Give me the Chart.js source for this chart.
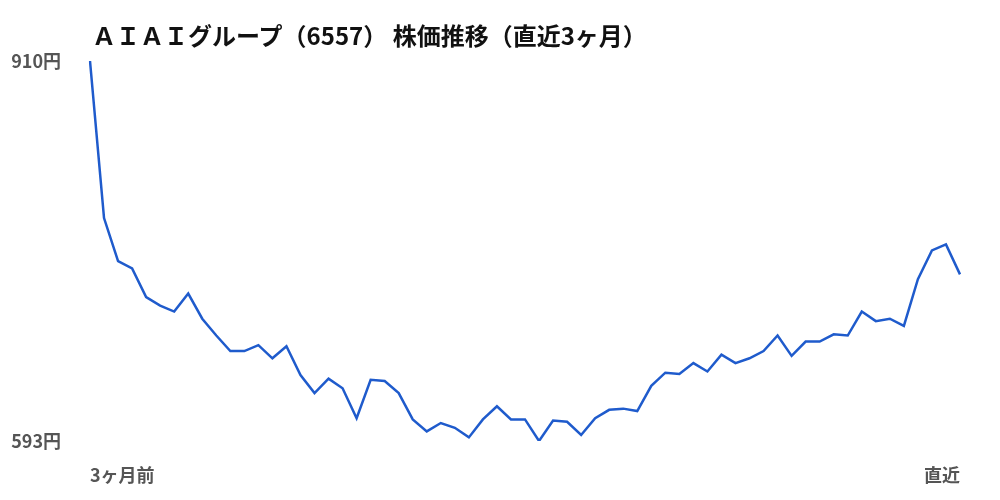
<!DOCTYPE html>
<html lang="ja">
<head>
<meta charset="utf-8">
<title>AIAIグループ 株価推移</title>
<script src="https://cdn.jsdelivr.net/npm/chart.js@4.4.1/dist/chart.umd.min.js"></script>
<style>
    html, body { margin: 0; padding: 0; background: #fff; }
    #wrap { position: relative; width: 1000px; height: 500px; }
    #title {
        position: absolute; left: 92px; top: 17px; margin: 0;
        font: bold 24px "Noto Sans CJK JP", "Noto Sans", sans-serif;
        color: #111; white-space: nowrap;
    }
</style>
</head>
<body>
<div id="wrap">
    <h1 id="title">ＡＩＡＩグループ（6557） 株価推移（直近3ヶ月）</h1>
    <canvas id="chart" width="1000" height="500"></canvas>
</div>
<script>
// 終値（3ヶ月前 → 直近）
const prices = [
    910, 779, 743, 737, 713, 706, 701, 716, 695, 681,
    668, 668, 673, 662, 672, 648, 633, 645, 637, 612,
    644, 643, 633, 611, 601, 608, 604, 596, 611, 622,
    611, 611, 593, 610, 609, 598, 612, 619, 620, 618,
    639, 650, 649, 658, 651, 665, 658, 662, 668, 681,
    664, 676, 676, 682, 681, 701, 693, 695, 689, 728,
    752, 757, 732
];
const xTickLabels = ['3ヶ月前', '直近'];
const yTicks = [593, 910];

const labelFont = { family: '"Noto Sans CJK JP", "Noto Sans", sans-serif', size: 18, weight: 'bold' };

new Chart(document.getElementById('chart'), {
    type: 'line',
    data: {
        labels: prices.map((_, i) => i),
        datasets: [{
            data: prices,
            borderColor: '#1f5bcc',
            borderWidth: 2.5,
            pointRadius: 0,
            tension: 0,
            fill: false
        }]
    },
    options: {
        responsive: false,
        animation: false,
        layout: { padding: { left: 10, right: 40, top: 61, bottom: 0 } },
        plugins: {
            legend: { display: false },
            tooltip: { enabled: false }
        },
        scales: {
            x: {
                offset: false,
                grid: { display: false, drawTicks: false },
                border: { display: false },
                ticks: {
                    autoSkip: false,
                    maxRotation: 0,
                    align: 'inner',
                    padding: 23,
                    color: '#555',
                    font: labelFont,
                    callback: (v, i, ticks) => {
                        if (i === 0) return xTickLabels[0];
                        if (i === ticks.length - 1) return xTickLabels[1];
                        return '';
                    }
                },
                afterFit: (scale) => { scale.height = 59; }
            },
            y: {
                min: yTicks[0],
                max: yTicks[1],
                grid: { display: false, drawTicks: false },
                border: { display: false },
                afterBuildTicks: (scale) => { scale.ticks = yTicks.map(v => ({ value: v })); },
                ticks: {
                    padding: 29,
                    color: '#555',
                    font: labelFont,
                    callback: (v) => v + '円'
                },
                afterFit: (scale) => { scale.width = 80; }
            }
        }
    }
});
</script>
</body>
</html>
